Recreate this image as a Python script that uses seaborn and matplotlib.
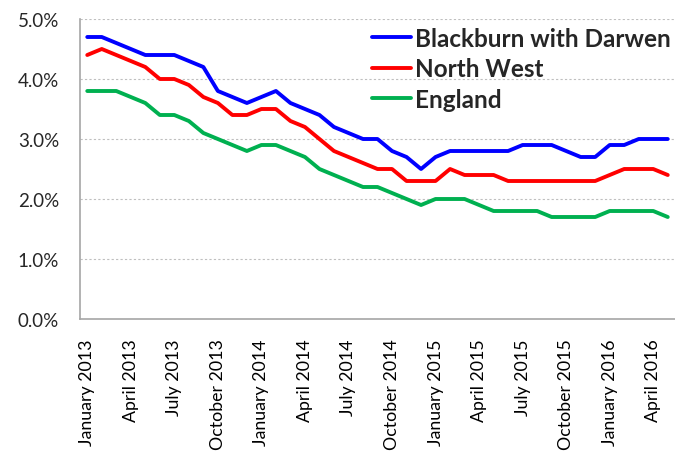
import pandas as pd
import matplotlib
matplotlib.use('Agg')
import matplotlib.pyplot as plt
import seaborn as sns
from matplotlib.ticker import FuncFormatter

# Monthly rates (%), January 2013 - May 2016
months = pd.date_range('2013-01-01', periods=41, freq='MS').strftime('%B %Y').tolist()

blackburn = [4.7, 4.7, 4.6, 4.5, 4.4, 4.4, 4.4, 4.3, 4.2, 3.8, 3.7, 3.6, 3.7, 3.8,
             3.6, 3.5, 3.4, 3.2, 3.1, 3.0, 3.0, 2.8, 2.7, 2.5, 2.7, 2.8, 2.8, 2.8,
             2.8, 2.8, 2.9, 2.9, 2.9, 2.8, 2.7, 2.7, 2.9, 2.9, 3.0, 3.0, 3.0]
north_west = [4.4, 4.5, 4.4, 4.3, 4.2, 4.0, 4.0, 3.9, 3.7, 3.6, 3.4, 3.4, 3.5, 3.5,
              3.3, 3.2, 3.0, 2.8, 2.7, 2.6, 2.5, 2.5, 2.3, 2.3, 2.3, 2.5, 2.4, 2.4,
              2.4, 2.3, 2.3, 2.3, 2.3, 2.3, 2.3, 2.3, 2.4, 2.5, 2.5, 2.5, 2.4]
england = [3.8, 3.8, 3.8, 3.7, 3.6, 3.4, 3.4, 3.3, 3.1, 3.0, 2.9, 2.8, 2.9, 2.9,
           2.8, 2.7, 2.5, 2.4, 2.3, 2.2, 2.2, 2.1, 2.0, 1.9, 2.0, 2.0, 2.0, 1.9,
           1.8, 1.8, 1.8, 1.8, 1.7, 1.7, 1.7, 1.7, 1.8, 1.8, 1.8, 1.8, 1.7]

areas = ['Blackburn with Darwen', 'North West', 'England']
colors = ['#0000FF', '#FF0000', '#00B050']

df = pd.DataFrame({'Month': months,
                   'Blackburn with Darwen': blackburn,
                   'North West': north_west,
                   'England': england})
df['idx'] = range(len(df))
long_df = df.melt(id_vars=['Month', 'idx'], var_name='Area', value_name='Rate')

sns.set_style('white')
plt.rcParams['font.family'] = ['Lato', 'DejaVu Sans']

fig = plt.figure(figsize=(6.75, 4.64), dpi=100)
ax = fig.add_axes([80 / 675, 1 - 320 / 464, 595 / 675, 300 / 464])

sns.lineplot(data=long_df, x='idx', y='Rate', hue='Area', hue_order=areas,
             palette=colors, linewidth=2.8, ax=ax)

ax.set_xlim(-0.5, len(months) - 0.5)
ax.set_ylim(0, 5)
ax.set_yticks([0, 1, 2, 3, 4, 5])
ax.yaxis.set_major_formatter(FuncFormatter(lambda v, p: f'{v:.1f}%'))
ax.yaxis.grid(True, color='#BFBFBF', linestyle=(0, (2, 2)), linewidth=0.8)
ax.set_axisbelow(True)

# labels every 3 months, tick marks every 4 categories (as in the original)
label_pos = list(range(0, len(months), 3))
ax.set_xticks(label_pos)
ax.set_xticklabels([months[i] for i in label_pos], rotation=90)
ax.tick_params(axis='x', which='major', length=0, labelsize=12.8, pad=14, colors='black')
ax.set_xticks([i - 0.5 for i in range(0, len(months), 4)], minor=True)
ax.tick_params(axis='x', which='minor', length=5, color='#A6A6A6', width=1)
ax.tick_params(axis='y', length=6, color='#A6A6A6', labelsize=13.5, pad=9)

for side in ['top', 'right']:
    ax.spines[side].set_visible(False)
for side in ['left', 'bottom']:
    ax.spines[side].set_color('#A6A6A6')
    ax.spines[side].set_linewidth(1.2)

ax.set_xlabel('')
ax.set_ylabel('')
leg = ax.legend(loc='upper left', bbox_to_anchor=(372 / 675, 1 - 28 / 464),
                bbox_transform=fig.transFigure, frameon=False, borderpad=0,
                borderaxespad=0, handlelength=1.6, handletextpad=0.18,
                labelspacing=0.3, prop={'weight': 'bold', 'size': 17.5})

fig.savefig('out.png', dpi=100)
